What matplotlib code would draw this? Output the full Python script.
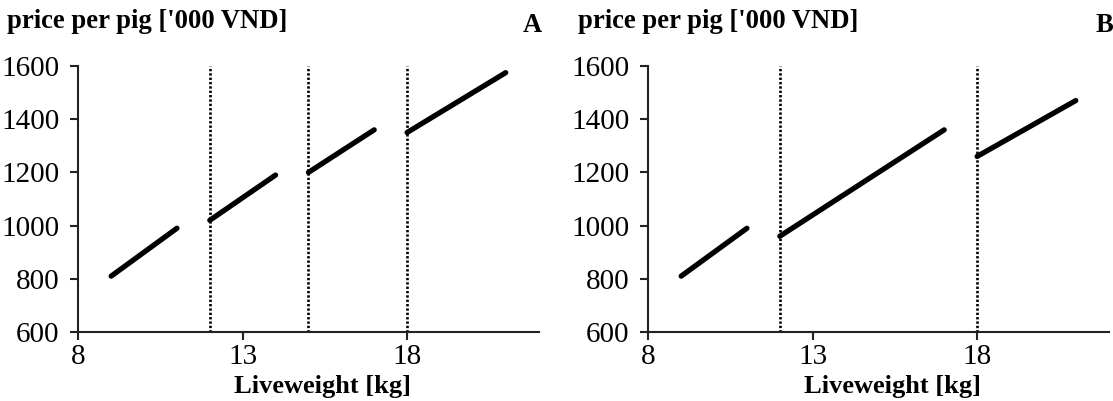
import matplotlib
matplotlib.use("Agg")
import matplotlib.pyplot as plt

plt.rcParams['font.family'] = ['Liberation Serif', 'DejaVu Serif']

# Panel A segments (liveweight kg -> price '000 VND)
a_x = [[9, 11], [12, 14], [15, 17], [18, 21]]
a_y = [[810, 990], [1020, 1190], [1200, 1360], [1350, 1575]]
a_vlines = [12, 15, 18]

# Panel B segments
b_x = [[9, 11], [12, 17], [18, 21]]
b_y = [[810, 990], [960, 1360], [1260, 1470]]
b_vlines = [12, 18]

x_ticks = [8, 13, 18]
y_ticks = [600, 800, 1000, 1200, 1400, 1600]
title_text = "price per pig ['000 VND]"
xlabel_text = "Liveweight [kg]"
panel_labels = ["A", "B"]

fig = plt.figure(figsize=(11.13, 4.01), dpi=100)
W, H = 1113, 401

def make_axes(left_px, right_px):
    top_px, bot_px = 66, 332
    return fig.add_axes([left_px / W, 1 - bot_px / H,
                         (right_px - left_px) / W, (bot_px - top_px) / H])

axA = make_axes(78.3, 538.6)
axB = make_axes(648.3, 1108.6)

for ax, xs, ys, vls in [(axA, a_x, a_y, a_vlines), (axB, b_x, b_y, b_vlines)]:
    for xx, yy in zip(xs, ys):
        ax.plot(xx, yy, color='black', lw=3.8, solid_capstyle='round', zorder=3)
    for v in vls:
        ax.plot([v, v], [600, 1600], color='black', lw=1.9,
                linestyle=(0, (0.9, 0.75)), zorder=2)
    ax.set_xlim(8, 22)
    ax.set_ylim(600, 1600)
    ax.set_xticks(x_ticks)
    ax.set_yticks(y_ticks)
    for s in ['top', 'right']:
        ax.spines[s].set_visible(False)
    for s in ['left', 'bottom']:
        ax.spines[s].set_linewidth(1.5)
        ax.spines[s].set_color('#222222')
    ax.tick_params(axis='both', direction='out', length=5.5, width=1.5,
                   color='#222222', labelsize=21)
    ax.tick_params(axis='y', pad=8)
    ax.tick_params(axis='x', pad=3)

# Titles, panel labels, x labels
fig.text(7 / W, 1 - 21 / H, title_text, fontsize=19.2, fontweight='bold',
         ha='left', va='center')
fig.text(578 / W, 1 - 21 / H, title_text, fontsize=19.2, fontweight='bold',
         ha='left', va='center')
fig.text(532 / W, 1 - 25 / H, panel_labels[0], fontsize=19.2, fontweight='bold',
         ha='center', va='center')
fig.text(1104 / W, 1 - 25 / H, panel_labels[1], fontsize=19.2, fontweight='bold',
         ha='center', va='center')
fig.text(322 / W, 1 - 386 / H, xlabel_text, fontsize=19, fontweight='bold',
         ha='center', va='center')
fig.text(893 / W, 1 - 386 / H, xlabel_text, fontsize=19, fontweight='bold',
         ha='center', va='center')

fig.savefig("out.png", dpi=100)
